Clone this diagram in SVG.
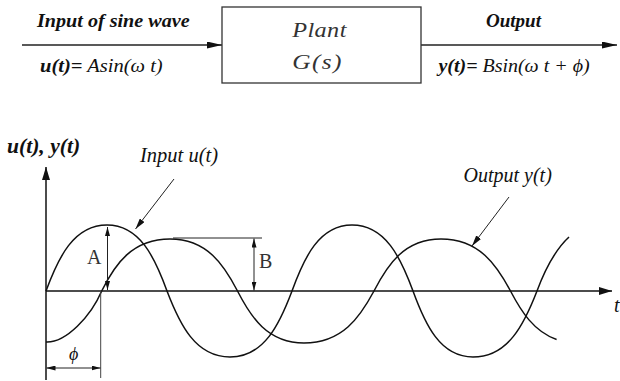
<svg xmlns="http://www.w3.org/2000/svg" width="620" height="381" viewBox="0 0 620 381">
<defs>
<style>
.c{fill:none;stroke:#111;stroke-width:1.5}
.ax{stroke:#111;stroke-width:1.5;fill:none}
.ln{stroke:#222;stroke-width:1.3;fill:none}
.thin{stroke:#222;stroke-width:1;fill:none}
.dk{fill:#111}
.gr{fill:#333}
</style>
<marker id="ahTop" viewBox="0 0 15 7" refX="15" refY="3.5" markerWidth="15" markerHeight="7" markerUnits="userSpaceOnUse" orient="auto-start-reverse"><path d="M0,0 L15,3.5 L0,7 z" fill="#111"/></marker>
<marker id="ahAx" viewBox="0 0 13 8" refX="13" refY="4" markerWidth="13" markerHeight="8" markerUnits="userSpaceOnUse" orient="auto-start-reverse"><path d="M0,0 L13,4 L0,8 z" fill="#111"/></marker>
<marker id="ahSm" viewBox="0 0 9 5" refX="9" refY="2.5" markerWidth="9" markerHeight="5" markerUnits="userSpaceOnUse" orient="auto-start-reverse"><path d="M0,0 L9,2.5 L0,5 z" fill="#111"/></marker>
<marker id="ahLbl" viewBox="0 0 11 6" refX="11" refY="3" markerWidth="11" markerHeight="6" markerUnits="userSpaceOnUse" orient="auto-start-reverse"><path d="M0,0 L11,3 L0,6 z" fill="#111"/></marker>
</defs>
<rect width="620" height="381" fill="#fff"/>

<g id="connectors">
<line class="ln" x1="22" y1="45" x2="222" y2="45" marker-end="url(#ahTop)"/>
<line class="ln" x1="421" y1="45" x2="617" y2="45" marker-end="url(#ahTop)"/>
</g>

<g id="input-signal" font-family="Liberation Serif, serif">
<text class="dk" font-style="italic" font-weight="bold" transform="translate(37,26.5) scale(1.06,1)" font-size="19">Input of sine wave</text>
<text class="dk" font-style="italic" transform="translate(40,71.5) scale(1.08,1)" font-size="19"><tspan font-weight="bold">u(t)=</tspan> Asin(ω t)</text>
</g>

<g id="plant" font-family="Liberation Serif, serif">
<rect x="222" y="7" width="199" height="76" fill="#fff" stroke="#333" stroke-width="1.3"/>
<text class="gr" font-style="italic" transform="translate(319.5,36.5) scale(1.1,1)" font-size="22" text-anchor="middle" letter-spacing="0.4">Plant</text>
<text class="gr" font-style="italic" transform="translate(317.5,68.5) scale(1.15,1)" font-size="22" text-anchor="middle" letter-spacing="1.2">G(s)</text>
</g>

<g id="output-signal" font-family="Liberation Serif, serif">
<text class="dk" font-style="italic" font-weight="bold" x="486" y="26.5" font-size="19">Output</text>
<text class="dk" font-style="italic" transform="translate(438.5,71.5) scale(1.05,1)" font-size="19"><tspan font-weight="bold">y(t)=</tspan> Bsin(ω t + ϕ)</text>
</g>

<g id="axes" font-family="Liberation Serif, serif">
<line class="ax" x1="46" y1="380" x2="46" y2="167" marker-end="url(#ahAx)"/>
<line class="ax" x1="46" y1="291" x2="612" y2="291" marker-end="url(#ahAx)"/>
<text class="dk" font-style="italic" font-weight="bold" transform="translate(7,153) scale(1.08,1)" font-size="20">u(t), y(t)</text>
<text class="dk" font-style="italic" x="614" y="311.5" font-size="20">t</text>
</g>

<g id="input-curve" font-family="Liberation Serif, serif">
<path class="c" d="M46,291 C58.2,258 73.45,225 107,225 C140,225 155,258 167,291 C179.6,324 195.35,357 230,357 C264.1,357 279.6,324 292,291 C304,258 319,225 352,225 C385.55,225 400.8,258 413,291 C425,324 440,357 473,357 C508.2,357 524.2,324 537,291 C544.6,270.5 555,250 569,237"/>
<line class="thin" x1="174" y1="179" x2="135.5" y2="229" marker-end="url(#ahLbl)"/>
<text class="dk" font-style="italic" x="140" y="162" font-size="20.5">Input u(t)</text>
</g>

<g id="output-curve" font-family="Liberation Serif, serif">
<path class="c" d="M46,342 C66,343 91,316 101.7,291 C115,264 132.43,239 170,239 C207.13,239 224,265 237.5,291 C250.8,317 267.42,343 304,343 C342.5,343 360,317 374,291 C387.4,265 404.15,239 441,239 C479.23,239 496.6,265 510.5,291 C521.11,311.28 533.79,331.56 556.6,339.5"/>
<line class="thin" x1="509" y1="197" x2="472" y2="246" marker-end="url(#ahLbl)"/>
<text class="dk" font-style="italic" x="463.5" y="181.5" font-size="20">Output y(t)</text>
</g>

<g id="amplitude-A" font-family="Liberation Serif, serif">
<line class="thin" x1="107.5" y1="227" x2="107.5" y2="290" marker-start="url(#ahSm)" marker-end="url(#ahSm)"/>
<text class="gr" x="87" y="263.5" font-size="20">A</text>
</g>

<g id="amplitude-B" font-family="Liberation Serif, serif">
<line class="thin" x1="173" y1="238" x2="262" y2="238"/>
<line class="thin" x1="254" y1="238.5" x2="254" y2="290.5" marker-start="url(#ahSm)" marker-end="url(#ahSm)"/>
<text class="gr" x="259" y="268" font-size="20">B</text>
</g>

<g id="phase" font-family="Liberation Serif, serif">
<line x1="100.7" y1="291" x2="100.7" y2="378" stroke="#444" stroke-width="1"/>
<line class="thin" x1="46.5" y1="368" x2="100.5" y2="368" marker-start="url(#ahSm)" marker-end="url(#ahSm)"/>
<text class="dk" font-style="italic" x="69" y="360" font-size="18">ϕ</text>
</g>
</svg>
